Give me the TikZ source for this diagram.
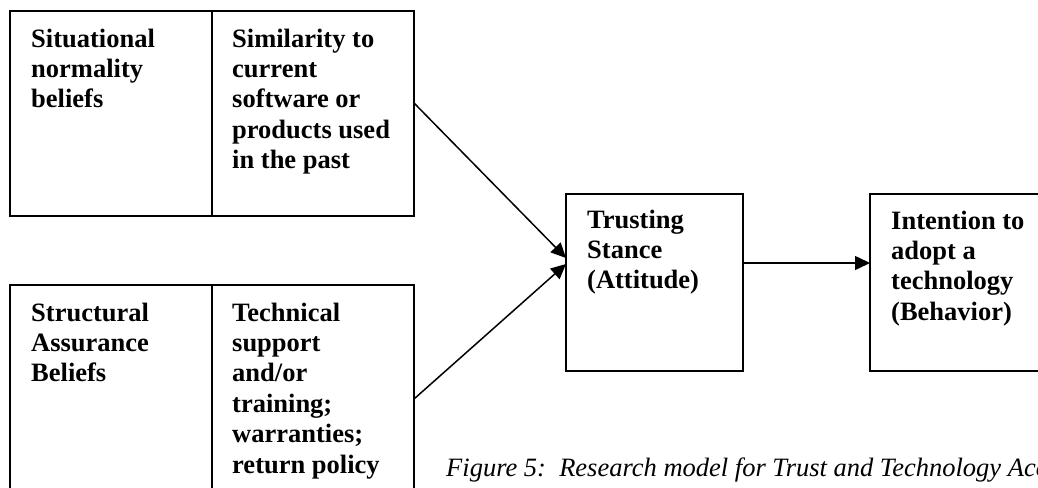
\documentclass[tikz,border=0pt]{standalone}
\usepackage{fontspec}
\setmainfont{Liberation Serif}
\usetikzlibrary{arrows.meta}

% baseline distance of the box texts
\newcommand{\lineskipbox}{30.4}

\tikzset{
  cell/.style={draw, line width=1.8pt, rectangle, inner sep=0pt, outer sep=0pt, anchor=north west},
  % multi-line node: the base anchor sits on the last line
  txt/.style={anchor=base west, inner sep=0pt, align=left,
              font=\fontsize{26.5}{30.4}\selectfont\bfseries},
  captxt/.style={anchor=base west, inner sep=0pt,
              font=\fontsize{26.5}{30.4}\selectfont\itshape},
  arr/.style={line width=1.5pt, -{Triangle[length=15pt, width=14pt]}},
}

\begin{document}
\begin{tikzpicture}[x=1pt, y=-1pt]
  \useasboundingbox (0,0) rectangle (1038,487);
  \clip (0,0) rectangle (1038,487);

  % situational normality: two-cell table
  \node[cell, minimum width=202pt, minimum height=205pt] (sitL) at (10,11) {};
  \node[cell, minimum width=202pt, minimum height=205pt] (sitR) at (212,11) {};
  \node[txt] (sitLt) at (31,47+2*\lineskipbox) {Situational\\normality\\beliefs};
  \node[txt] (sitRt) at (232,47+4*\lineskipbox) {Similarity to\\current\\software or\\products used\\in the past};

  % structural assurance: two-cell table
  \node[cell, minimum width=202pt, minimum height=235pt] (strL) at (10,285) {};
  \node[cell, minimum width=202pt, minimum height=235pt] (strR) at (212,285) {};
  \node[txt] (strLt) at (31,321+2*\lineskipbox) {Structural\\Assurance\\Beliefs};
  \node[txt] (strRt) at (232,321+5*\lineskipbox) {Technical\\support\\and/or\\training;\\warranties;\\return policy};

  % attitude and behaviour
  \node[cell, minimum width=177pt, minimum height=177pt] (trust) at (566,194) {};
  \node[txt] (trustt) at (587,228+2*\lineskipbox) {Trusting\\Stance\\(Attitude)};
  \node[cell, minimum width=200pt, minimum height=177pt] (intent) at (870,194) {};
  \node[txt] (intentt) at (891,229+3*\lineskipbox) {Intention to\\adopt a\\technology\\(Behavior)};

  % connectors
  \draw[arr] ([yshift=10.5pt]sitR.east) -- ([yshift=24.5pt]trust.west);
  \draw[arr] ([yshift=3.5pt]strR.east) -- ([yshift=18.5pt]trust.west);
  \draw[arr] ([yshift=19.5pt]trust.east) -- ([yshift=19.5pt]intent.west);

  % caption
  \node[captxt] (cap) at (446,476) {Figure 5:\ \ Research model for Trust and Technology Acceptance};
\end{tikzpicture}
\end{document}
